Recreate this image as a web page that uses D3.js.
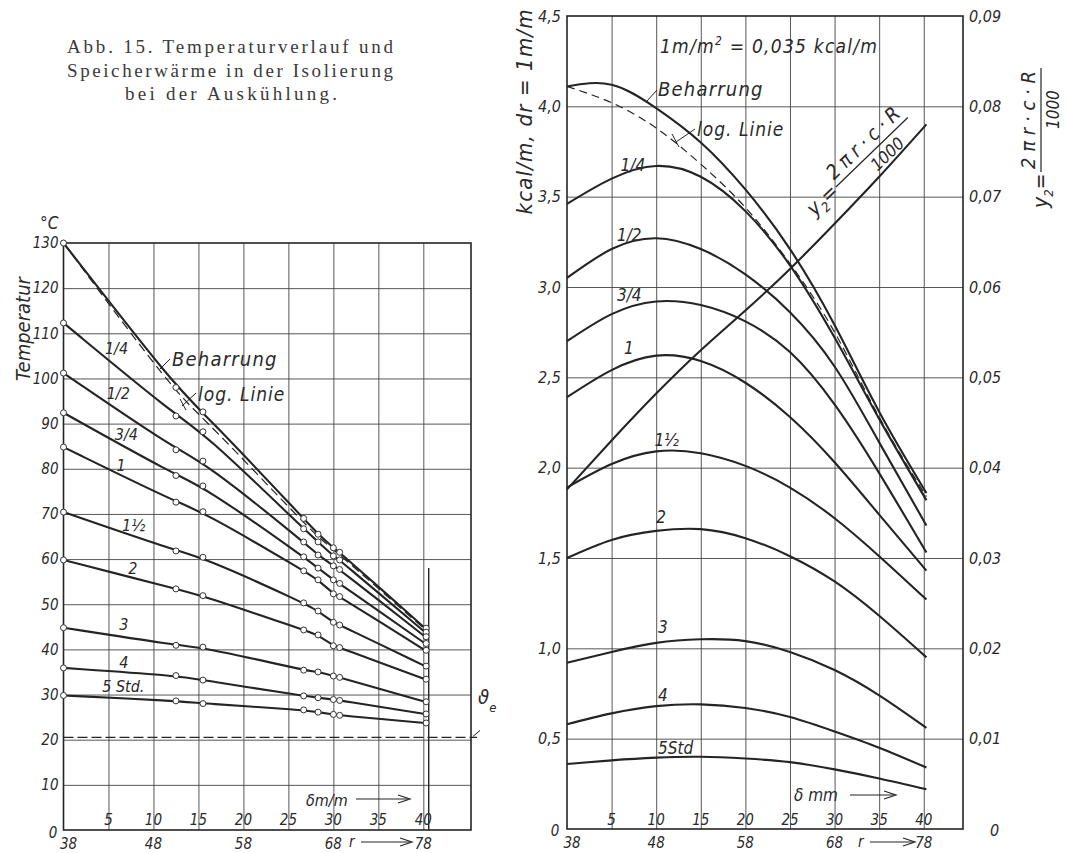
<!DOCTYPE html>
<html>
<head>
<meta charset="utf-8">
<script src="https://cdn.jsdelivr.net/npm/d3@7/dist/d3.min.js"></script>
<style>
  body { margin: 0; background: #fff; }
  text { font-family: "DejaVu Sans Condensed", "Liberation Sans Narrow", "DejaVu Sans", sans-serif; font-style: italic; fill: #2a2a2a; }
  .cap { font-family: "Liberation Serif", "DejaVu Serif", serif; font-style: normal; fill: #3a3a3a; }
  .grid line { stroke: #444; stroke-width: 0.9; }
  .grid .domain { display: none; }
</style>
</head>
<body>
<svg width="1067" height="853"></svg>
<script>
// ---------- caption ----------
const captionLines = ["Abb. 15.  Temperaturverlauf und", "Speicherwärme in der Isolierung", "bei der Auskühlung."];

// ---------- left chart: temperature in the insulation ----------
const tempTicks = d3.range(10, 131, 10);
const deltaTicks = [5, 10, 15, 20, 25, 30, 35, 40];
const radiusTicks = [38, 48, 58, 68, 78];
const tDelta = [0, 12.5, 15.5, 26.7, 28.3, 30, 30.7, 40.2];
const tBeharrung = [130, 98, 92.6, 69, 65.5, 62.5, 61.5, 44.7];
const tLogLinie = [130, 96.5, 91.5, 68, 65, 62, 61, 44.4];
const tQuarter = [112.3, 91.7, 88.2, 66.7, 63.8, 60.7, 59.8, 43.8];
const tHalf = [101.2, 84.2, 81.7, 63.8, 60.9, 58.5, 57.7, 42.8];
const tThreeQ = [92.4, 78.5, 76.2, 60.5, 58, 55.4, 54.6, 41.3];
const tOne = [84.8, 72.6, 70.5, 57.4, 55.4, 52.3, 51.7, 39.8];
const tOneHalf = [70.4, 61.8, 60.4, 50.3, 48.5, 46, 45.4, 36.3];
const tTwo = [59.8, 53.4, 51.9, 44.3, 43.2, 40.8, 40.4, 33.4];
const tThree = [44.8, 40.9, 40.5, 35.4, 35, 34.1, 33.8, 28.4];
const tFour = [35.9, 34.2, 33.2, 29.7, 29.3, 28.9, 28.7, 25.7];
const tFive = [29.8, 28.6, 28, 26.6, 26.1, 25.6, 25.4, 23.7];
const tEnv = 20.5;
const tLabels = ["1/4", "1/2", "3/4", "1", "1\u00BD", "2", "3", "4", "5 Std."];

// ---------- right chart: stored heat ----------
const qTicks = d3.range(0.5, 4.51, 0.5);
const y2Ticks = d3.range(0.01, 0.091, 0.01);
const qDelta = [0, 5, 10, 15, 20, 25, 30, 35, 40.3];
const qBeharrung = [4.11, 4.12, 3.99, 3.80, 3.54, 3.21, 2.79, 2.31, 1.86];
const qLogLinie = [4.11, 4.02, 3.88, 3.68, 3.44, 3.13, 2.75, 2.28, 1.84];
const qQuarter = [3.46, 3.60, 3.67, 3.61, 3.42, 3.12, 2.72, 2.27, 1.82];
const qHalf = [3.05, 3.21, 3.27, 3.21, 3.07, 2.86, 2.56, 2.14, 1.68];
const qThreeQ = [2.70, 2.85, 2.92, 2.90, 2.81, 2.64, 2.35, 1.97, 1.53];
const qOne = [2.39, 2.54, 2.62, 2.59, 2.47, 2.28, 2.03, 1.74, 1.43];
const qOneHalf = [1.89, 2.02, 2.09, 2.08, 2.01, 1.89, 1.72, 1.51, 1.27];
const qTwo = [1.50, 1.60, 1.65, 1.66, 1.61, 1.51, 1.37, 1.18, 0.95];
const qThree = [0.92, 0.98, 1.03, 1.05, 1.04, 0.98, 0.88, 0.74, 0.56];
const qFour = [0.58, 0.64, 0.68, 0.69, 0.67, 0.62, 0.54, 0.45, 0.34];
const qFive = [0.36, 0.38, 0.395, 0.40, 0.39, 0.37, 0.33, 0.28, 0.22];
const y2Values = [0.0376, 0.043, 0.0482, 0.053, 0.0574, 0.062, 0.067, 0.0722, 0.078];
const qLabels = ["1/4", "1/2", "3/4", "1", "1\u00BD", "2", "3", "4", "5Std"];

const svg = d3.select("svg");
const ink = "#242424";
const comma = (p) => (d) => d3.format(`.${p}f`)(d).replace(".", ",");
const interp = (xs, ys, x) => {
  for (let i = 1; i < xs.length; i++) {
    if (x <= xs[i]) return ys[i - 1] + (ys[i] - ys[i - 1]) * (x - xs[i - 1]) / (xs[i] - xs[i - 1]);
  }
  return ys[ys.length - 1];
};
const arrow = (g, x1, x2, y) => {
  g.append("line").attr("x1", x1).attr("x2", x2 - 2).attr("y1", y).attr("y2", y).attr("stroke", ink).attr("stroke-width", 1.2);
  g.append("path").attr("d", `M${x2 - 12},${y - 4} L${x2},${y} L${x2 - 12},${y + 4}`).attr("fill", "none").attr("stroke", ink).attr("stroke-width", 1.2);
};

// caption
const cap = svg.append("g");
cap.append("text").attr("class", "cap").attr("x", 67).attr("y", 53).attr("font-size", 19)
  .attr("textLength", 326).attr("lengthAdjust", "spacing").text(captionLines[0]);
cap.append("text").attr("class", "cap").attr("x", 67).attr("y", 77).attr("font-size", 19)
  .attr("textLength", 326).attr("lengthAdjust", "spacing").text(captionLines[1]);
cap.append("text").attr("class", "cap").attr("x", 125).attr("y", 100).attr("font-size", 19)
  .attr("textLength", 212).attr("lengthAdjust", "spacing").text(captionLines[2]);

// =============== LEFT CHART ===============
const xL = d3.scaleLinear().domain([0, 45.3]).range([63.5, 471]);
const yL = d3.scaleLinear().domain([0, 130]).range([830, 243]);
const L = svg.append("g");

L.append("g").attr("class", "grid").attr("transform", `translate(0,${yL(0)})`)
  .call(d3.axisBottom(xL).tickValues(deltaTicks).tickSize(-(yL(0) - yL(130))).tickFormat(""));
L.append("g").attr("class", "grid").attr("transform", `translate(${xL(0)},0)`)
  .call(d3.axisLeft(yL).tickValues(tempTicks.slice(0, -1)).tickSize(-(xL(45.3) - xL(0))).tickFormat(""));
L.append("rect").attr("x", xL(0)).attr("y", yL(130)).attr("width", xL(45.3) - xL(0)).attr("height", yL(0) - yL(130))
  .attr("fill", "none").attr("stroke", ink).attr("stroke-width", 1.6);

L.append("g").attr("transform", `translate(${xL(0)},0)`)
  .call(d3.axisLeft(yL).tickValues(tempTicks).tickSize(0).tickPadding(5).tickFormat(d3.format("d")))
  .call(g => g.select(".domain").remove())
  .selectAll("text").attr("font-size", 15).style("font-family", null);
L.selectAll(".tick text").attr("fill", ink);

// bottom labels
L.selectAll(".dlab").data(deltaTicks).join("text").attr("class", "dlab")
  .attr("x", d => xL(d)).attr("y", 825).attr("text-anchor", "middle").attr("font-size", 15).text(d => d);
L.selectAll(".rlab").data(radiusTicks).join("text").attr("class", "rlab")
  .attr("x", d => xL(d - 38) + (d === 38 ? 5 : 0)).attr("y", 849).attr("text-anchor", "middle").attr("font-size", 15).text(d => d);
L.append("text").attr("x", 53).attr("y", 838).attr("text-anchor", "middle").attr("font-size", 15).text("0");
L.append("text").attr("x", 349).attr("y", 847).attr("font-size", 15).text("r");
arrow(L, 361, 412, 842);
L.append("text").attr("x", 306).attr("y", 806).attr("font-size", 16).text("\u03B4m/m");
arrow(L, 356, 410, 799);

L.append("text").attr("x", 40).attr("y", 229).attr("font-size", 17).text("\u00B0C");
L.append("text").attr("transform", "translate(30,329) rotate(-90)").attr("text-anchor", "middle")
  .attr("font-size", 20).text("Temperatur");

// ambient dashed line
L.append("line").attr("x1", xL(0)).attr("x2", xL(45.3) + 6).attr("y1", yL(tEnv)).attr("y2", yL(tEnv))
  .attr("stroke", ink).attr("stroke-width", 1.3).attr("stroke-dasharray", "10,4");
L.append("line").attr("x1", xL(45.3) + 2).attr("x2", xL(45.3) + 9).attr("y1", yL(tEnv) - 1).attr("y2", yL(tEnv) - 7)
  .attr("stroke", ink).attr("stroke-width", 1);
const th = L.append("text").attr("x", 478).attr("y", 704).attr("font-size", 20);
th.append("tspan").text("\u03D1");
th.append("tspan").attr("font-size", 13).attr("dy", 8).text("e");

// outer surface marker
L.append("line").attr("x1", xL(40.6)).attr("x2", xL(40.6)).attr("y1", yL(58)).attr("y2", yL(0))
  .attr("stroke", ink).attr("stroke-width", 1.4);

const tSeries = [tQuarter, tHalf, tThreeQ, tOne, tOneHalf, tTwo, tThree, tFour, tFive];
const lineL = d3.line().x((d, i) => xL(tDelta[i])).y(d => yL(d)).curve(d3.curveBasis);
L.append("path").attr("d", lineL(tLogLinie)).attr("fill", "none").attr("stroke", ink)
  .attr("stroke-width", 1.2).attr("stroke-dasharray", "9,5");
[tBeharrung, ...tSeries].forEach(s => {
  L.append("path").attr("d", lineL(s)).attr("fill", "none").attr("stroke", ink).attr("stroke-width", 2.1);
  L.selectAll(null).data(s).join("circle")
    .attr("cx", (d, i) => xL(tDelta[i]) + (i === tDelta.length - 1 ? 1 : 0)).attr("cy", d => yL(d)).attr("r", 3)
    .attr("fill", "#fff").attr("stroke", "#333").attr("stroke-width", 1);
});

// curve labels
const tLabelAt = [[4.6, 3], [4.8, 4], [5.7, 1], [5.9, 2], [6.5, 1], [7.2, 3], [6.2, 6], [6.2, 4], [4.3, 5]];
tLabels.forEach((lab, i) => {
  const [d, off] = tLabelAt[i];
  L.append("text").attr("x", xL(d)).attr("y", yL(interp(tDelta, tSeries[i], d)) - off)
    .attr("font-size", 16).text(lab);
});
L.append("text").attr("x", 172).attr("y", 366).attr("font-size", 20).attr("letter-spacing", 1.2).text("Beharrung");
L.append("path").attr("d", "M160,369 L170,359").attr("stroke", ink).attr("stroke-width", 1);
L.append("text").attr("x", 198).attr("y", 401).attr("font-size", 19).attr("letter-spacing", 1).text("log. Linie");
L.append("path").attr("d", "M182,406 L196,393 M180,399 L186,410").attr("stroke", ink).attr("stroke-width", 1).attr("fill", "none");

// =============== RIGHT CHART ===============
const xR = d3.scaleLinear().domain([0, 44.4]).range([567, 963]);
const yR = d3.scaleLinear().domain([0, 4.5]).range([829, 16]);
const yR2 = d3.scaleLinear().domain([0, 0.09]).range([829, 16]);
const R = svg.append("g");

R.append("g").attr("class", "grid").attr("transform", `translate(0,${yR(0)})`)
  .call(d3.axisBottom(xR).tickValues(deltaTicks).tickSize(-(yR(0) - yR(4.5))).tickFormat(""));
R.append("g").attr("class", "grid").attr("transform", `translate(${xR(0)},0)`)
  .call(d3.axisLeft(yR).tickValues(qTicks.slice(0, -1)).tickSize(-(xR(44.4) - xR(0))).tickFormat(""));
R.append("rect").attr("x", xR(0)).attr("y", yR(4.5)).attr("width", xR(44.4) - xR(0)).attr("height", yR(0) - yR(4.5))
  .attr("fill", "none").attr("stroke", ink).attr("stroke-width", 1.6);

R.append("g").attr("transform", `translate(${xR(0)},0)`)
  .call(d3.axisLeft(yR).tickValues(qTicks).tickSize(0).tickPadding(6).tickFormat(comma(1)))
  .call(g => g.select(".domain").remove())
  .selectAll("text").attr("font-size", 16).style("font-family", null);
R.append("g").attr("transform", `translate(${xR(44.4)},0)`)
  .call(d3.axisRight(yR2).tickValues(y2Ticks).tickSize(0).tickPadding(6).tickFormat(comma(2)))
  .call(g => g.select(".domain").remove())
  .selectAll("text").attr("font-size", 16).style("font-family", null);
R.selectAll(".tick text").attr("fill", ink);
R.append("text").attr("x", 990).attr("y", 836).attr("font-size", 16).text("0");

R.selectAll(".dlab").data(deltaTicks).join("text").attr("class", "dlab")
  .attr("x", d => xR(d)).attr("y", 825).attr("text-anchor", "middle").attr("font-size", 15).text(d => d);
R.selectAll(".rlab").data(radiusTicks).join("text").attr("class", "rlab")
  .attr("x", d => xR(d - 38) + (d === 38 ? 5 : 0)).attr("y", 848).attr("text-anchor", "middle").attr("font-size", 15).text(d => d);
R.append("text").attr("x", 555).attr("y", 836).attr("text-anchor", "middle").attr("font-size", 15).text("0");
R.append("text").attr("x", 858).attr("y", 847).attr("font-size", 15).text("r");
arrow(R, 870, 915, 842);
R.append("text").attr("x", 794).attr("y", 801).attr("font-size", 17).text("\u03B4 mm");
arrow(R, 850, 896, 795);

R.append("text").attr("transform", "translate(532,112) rotate(-90)").attr("text-anchor", "middle")
  .attr("font-size", 22).attr("textLength", 205).attr("lengthAdjust", "spacing").text("kcal/m, dr = 1m/m");
const note = R.append("text").attr("x", 660).attr("y", 53).attr("font-size", 19)
  .attr("textLength", 217).attr("lengthAdjust", "spacing");
note.append("tspan").text("1m/m");
note.append("tspan").attr("font-size", 12).attr("dy", -8).text("2");
note.append("tspan").attr("dy", 8).text(" = 0,035  kcal/m");

// y2 formula helper
const formula = (g, len) => {
  const t = g.append("text").attr("x", 0).attr("y", 7).attr("font-size", 21);
  t.append("tspan").text("y");
  t.append("tspan").attr("font-size", 13).attr("dy", 5).text("2");
  t.append("tspan").attr("dy", -5).text("=");
  g.append("line").attr("x1", 36).attr("x2", 36 + len).attr("y1", 0).attr("y2", 0).attr("stroke", ink).attr("stroke-width", 1.2);
  g.append("text").attr("x", 36 + len / 2).attr("y", -6).attr("text-anchor", "middle").attr("font-size", 20)
    .attr("textLength", len - 6).attr("lengthAdjust", "spacing").text("2\u03C0r\u00B7c\u00B7R");
  g.append("text").attr("x", 36 + len * 0.6).attr("y", 18).attr("text-anchor", "middle").attr("font-size", 17).text("1000");
};
formula(R.append("g").attr("transform", "translate(1041,208) rotate(-90)"), 104);
formula(R.append("g").attr("transform", "translate(810,212) rotate(-44)"), 100);

const qSeries = [qQuarter, qHalf, qThreeQ, qOne, qOneHalf, qTwo, qThree, qFour, qFive];
const lineR = d3.line().x((d, i) => xR(qDelta[i])).y(d => yR(d)).curve(d3.curveNatural);
R.append("path").attr("d", lineR(qLogLinie)).attr("fill", "none").attr("stroke", ink)
  .attr("stroke-width", 1.2).attr("stroke-dasharray", "8,5");
[qBeharrung, ...qSeries].forEach(s => {
  R.append("path").attr("d", lineR(s)).attr("fill", "none").attr("stroke", ink).attr("stroke-width", 2.1);
});
const lineY2 = d3.line().x((d, i) => xR(qDelta[i])).y(d => yR2(d)).curve(d3.curveNatural);
R.append("path").attr("d", lineY2(y2Values)).attr("fill", "none").attr("stroke", ink).attr("stroke-width", 2.1);

const qLabelAt = [[6, 5], [5.6, 7], [5.6, 12], [6.4, 12], [9.8, 6], [10, 8], [10.2, 10], [10.2, 5], [10.2, 4]];
qLabels.forEach((lab, i) => {
  const [d, off] = qLabelAt[i];
  R.append("text").attr("x", xR(d)).attr("y", yR(interp(qDelta, qSeries[i], d)) - off)
    .attr("font-size", 17).text(lab);
});
R.append("text").attr("x", 658).attr("y", 96).attr("font-size", 20).attr("letter-spacing", 1.2).text("Beharrung");
R.append("path").attr("d", "M647,101 L657,90").attr("stroke", ink).attr("stroke-width", 1);
R.append("text").attr("x", 697).attr("y", 136).attr("font-size", 19).attr("letter-spacing", 1).text("log. Linie");
R.append("path").attr("d", "M676,142 L695,129 M672,134 L679,147").attr("stroke", ink).attr("stroke-width", 1).attr("fill", "none");
</script>
</body>
</html>
